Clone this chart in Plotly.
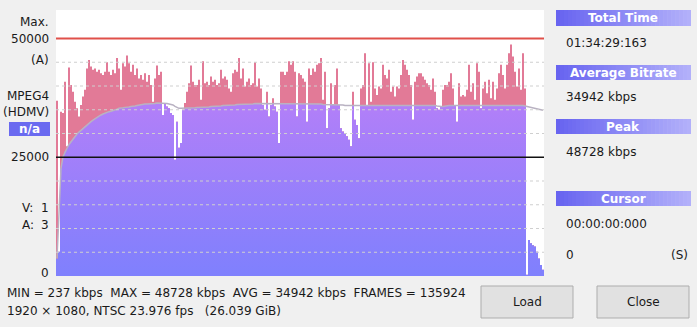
import numpy as np
import plotly.graph_objects as go

# ---------------- data ----------------
bitrate_kbps = [
    36900, 5100, 34600, 34300, 40900, 27300, 43900, 40200, 38800, 36700,
    35300, 33600, 36000, 37800, 39200, 43700, 45500, 44100, 43400, 43700,
    43000, 43400, 42700, 42300, 43000, 45000, 43000, 42300, 43400, 42700,
    45900, 43700, 39200, 44800, 44100, 46400, 44800, 43000, 44500, 42300,
    43700, 41600, 42300, 41300, 42700, 40900, 42300, 40200, 36700, 41600,
    44300, 42300, 43000, 33900, 36400, 35700, 35300, 34300, 33900, 24500,
    32500, 27000, 28000, 35000, 36400, 38800, 40600, 44300, 40900, 40200,
    40200, 41300, 37100, 45200, 40600, 40900, 40200, 42000, 40900, 41300,
    40200, 40600, 43400, 41600, 42000, 41300, 39500, 38800, 42700, 43400,
    43000, 45900, 41600, 43700, 39900, 40900, 41600, 40200, 40600, 45000,
    39900, 41600, 39500, 36000, 35000, 38800, 33600, 36000, 37400, 35700,
    34600, 28000, 43000, 43000, 42300, 43000, 45200, 44500, 45200, 43000,
    33600, 42700, 42300, 41600, 40900, 32500, 43700, 42300, 43700, 43000,
    44500, 44800, 45900, 37100, 43000, 31100, 35300, 40600, 36000, 40200,
    43700, 36000, 31100, 30400, 30000, 29400, 28700, 27300, 38800, 32900,
    31800, 29000, 39500, 40200, 46900, 36000, 44800, 36700, 45000, 39500,
    38100, 39900, 39500, 44500, 42300, 41600, 43400, 38800, 39900, 37800,
    39900, 39500, 42300, 45500, 44500, 43400, 42300, 40200, 32900, 40900,
    42000, 42700, 42700, 42000, 41300, 40600, 40200, 39200, 41600, 38800,
    35300, 35000, 35700, 39200, 40200, 40200, 40900, 42700, 39500, 36000,
    32500, 40600, 37800, 38100, 37800, 39200, 44500, 38800, 40600, 37100,
    44800, 43000, 35300, 39500, 40900, 38500, 41300, 37400, 40900, 37100,
    39500, 42700, 44500, 42300, 39500, 44500, 46900, 48728, 46200, 43000,
    39900, 43700, 39200, 46900, 39500, 237, 7600, 6900, 6500, 6200,
    5100, 3700, 2300, 1300,
]

avg_kbps = [
    3700, 15000, 22700, 25100, 26200, 26900, 27700, 28300, 28900, 29400,
    29900, 30300, 30700, 31100, 31500, 31800, 32200, 32500, 32800, 33100,
    33400, 33600, 33900, 34100, 34300, 34400, 34600, 34700, 34800, 35000,
    35100, 35300, 35300, 35400, 35500, 35500, 35600, 35700, 35700, 35800,
    35900, 36000, 36000, 36100, 36200, 36200, 36200, 36200, 36300, 36300,
    36400, 36400, 36400, 36400, 36400, 36300, 36200, 36100, 36000, 35700,
    35500, 35300, 35300, 35300, 35300, 35300, 35400, 35400, 35400, 35400,
    35500, 35500, 35500, 35600, 35600, 35600, 35600, 35700, 35700, 35700,
    35800, 35800, 35800, 35900, 35900, 35900, 36000, 36000, 36000, 36000,
    36100, 36100, 36100, 36100, 36200, 36200, 36200, 36200, 36200, 36300,
    36300, 36300, 36300, 36300, 36300, 36300, 36300, 36300, 36300, 36200,
    36200, 36200, 36200, 36200, 36200, 36300, 36300, 36300, 36300, 36300,
    36300, 36300, 36300, 36200, 36200, 36200, 36200, 36200, 36200, 36200,
    36200, 36200, 36200, 36100, 36100, 36100, 36100, 36100, 36100, 36100,
    36100, 36000, 36000, 36000, 35900, 35900, 35900, 35900, 35900, 35900,
    35900, 35900, 35900, 35900, 35900, 35900, 35900, 35900, 35900, 35900,
    35900, 36000, 36000, 36000, 36000, 36000, 36000, 36000, 36000, 36000,
    36000, 36000, 36000, 36000, 36000, 36000, 36000, 36000, 36000, 36000,
    36000, 36000, 36000, 36000, 36000, 36000, 36000, 36000, 35900, 35900,
    35800, 35700, 35700, 35700, 35800, 35800, 35900, 35900, 35900, 35900,
    35900, 35900, 35900, 35900, 35900, 35900, 35900, 35900, 35900, 35900,
    35900, 35900, 35900, 35900, 35900, 35900, 35900, 35900, 35900, 35900,
    35900, 35900, 35900, 35900, 36000, 36000, 36000, 36000, 36000, 36000,
    36000, 36000, 35900, 35900, 35800, 35700, 35600, 35500, 35400, 35300,
    35200, 35100, 35000, 34900,
]

max_line_kbps = 50000
mid_line_kbps = 25000
grid_kbps = [5000, 10000, 15000, 20000, 30000, 35000, 40000, 45000]
y_top_kbps = 56000

left_labels = ["Max.", "50000", "(A)", "MPEG4", "(HDMV)", "25000", "0"]
stats_line1 = "MIN = 237 kbps  MAX = 48728 kbps  AVG = 34942 kbps  FRAMES = 135924"
stats_line2 = "1920 × 1080, NTSC 23.976 fps   (26.039 GiB)"
panel_headers = ["Total Time", "Average Bitrate", "Peak", "Cursor"]
panel_values = ["01:34:29:163", "34942 kbps", "48728 kbps", "00:00:00:000"]

# ---------------- figure ----------------
W, H = 697, 327
PL, PR, PT, PB = 56, 544, 10, 276
FONT = "DejaVu Sans"


def fx(px):
    return (px - PL) / (PR - PL)


def fy(py):
    return (PB - py) / (PB - PT)


n = len(bitrate_kbps)
xs = list(range(n + 1))
bars = np.array(bitrate_kbps, dtype=float)
avg = np.array(avg_kbps, dtype=float)
below = np.minimum(bars, avg)

fig = go.Figure()
fig.add_trace(go.Scatter(
    x=xs, y=list(bars) + [bars[-1]], mode="lines", line=dict(shape="hv", width=0, color="#e27a97"),
    fill="tozeroy", fillcolor="#e27a97", hoverinfo="skip", showlegend=False))
fig.add_trace(go.Scatter(
    x=xs, y=list(below) + [below[-1]], mode="lines", line=dict(shape="hv", width=0, color="#9a80fa"),
    fill="tozeroy",
    fillgradient=dict(type="vertical", colorscale=[[0, "#7f80fd"], [1, "#b37ff8"]], start=0, stop=37000),
    hoverinfo="skip", showlegend=False))
fig.add_trace(go.Scatter(
    x=[i + 0.5 for i in range(n)], y=avg, mode="lines", line=dict(color="#b9b2c2", width=1.5),
    hoverinfo="skip", showlegend=False))

shapes = []
for g in grid_kbps:
    shapes.append(dict(type="line", xref="paper", yref="y", x0=0, x1=1, y0=g, y1=g,
                       line=dict(color="#cfcfcf", width=1, dash="dot"), layer="above"))
shapes.append(dict(type="line", xref="paper", yref="y", x0=0, x1=1, y0=max_line_kbps, y1=max_line_kbps,
                   line=dict(color="#e0504a", width=2), layer="above"))
shapes.append(dict(type="line", xref="paper", yref="y", x0=0, x1=1, y0=mid_line_kbps, y1=mid_line_kbps,
                   line=dict(color="#111111", width=1.5), layer="above"))


def grad_box(x0, x1, y0, y1, c0, c1, steps=34):
    for k in range(steps):
        t = k / (steps - 1)
        col = "rgb(%d,%d,%d)" % tuple(int(round(a + (b - a) * t)) for a, b in zip(c0, c1))
        a0 = x0 + (x1 - x0) * k / steps
        a1 = x0 + (x1 - x0) * (k + 1) / steps + 0.6
        shapes.append(dict(type="rect", xref="paper", yref="paper", x0=fx(a0), x1=fx(min(a1, x1)),
                           y0=fy(y1), y1=fy(y0), fillcolor=col, line=dict(width=0), layer="below"))


annotations = []


def ann(text, px, py, xanchor="left", size=12, color="#1a1a1a", bold=False):
    annotations.append(dict(x=fx(px), y=fy(py), xref="paper", yref="paper",
                            text=("<b>%s</b>" % text) if bold else text, showarrow=False,
                            xanchor=xanchor, yanchor="middle",
                            font=dict(family=FONT, size=size, color=color)))


def nb(s):
    return s.replace(" ", "\u00a0")


# left labels
left_y = [22, 39, 60, 96, 112, 157, 273]
for lab, yy in zip(left_labels, left_y):
    ann(lab, 51, yy, xanchor="right")
shapes.append(dict(type="rect", xref="paper", yref="paper", x0=fx(9), x1=fx(50), y0=fy(136), y1=fy(122),
                   fillcolor="#6a6af0", line=dict(width=0), layer="below"))
ann("n/a", 29.5, 129, xanchor="center", color="white", bold=True)
ann("V:", 20, 208)
ann("1", 51, 208, xanchor="right")
ann("A:", 20, 225)
ann("3", 51, 225, xanchor="right")

# right panel
header_y = [(10, 26), (65, 80), (119, 134), (191, 206)]
value_y = [43, 97, 152, 224]
for hdr, (y0, y1), val, vy in zip(panel_headers, header_y, panel_values, value_y):
    grad_box(556, 691, y0, y1, (104, 100, 240), (178, 176, 250))
    ann(hdr, 623, (y0 + y1) / 2, xanchor="center", color="white", bold=True)
    ann(val, 564, vy)
ann("0", 564, 255)
ann("(S)", 690, 255, xanchor="right")

# bottom stats
ann(nb(stats_line1), 5, 293)
ann(nb(stats_line2), 5, 311)

# buttons
for bx0, bx1, lab in [(481, 573, "Load"), (597, 689, "Close")]:
    shapes.append(dict(type="rect", xref="paper", yref="paper", x0=fx(bx0), x1=fx(bx1), y0=fy(318), y1=fy(286),
                       fillcolor="#e1e1e1", line=dict(color="#adadad", width=1), layer="below"))
    ann(lab, (bx0 + bx1) / 2, 302, xanchor="center")

fig.update_layout(
    width=W, height=H,
    margin=dict(l=PL, r=W - PR, t=PT, b=H - PB, pad=0),
    paper_bgcolor="#f0f0f0", plot_bgcolor="white",
    xaxis=dict(range=[0, n], visible=False, fixedrange=True),
    yaxis=dict(range=[0, y_top_kbps], visible=False, fixedrange=True),
    shapes=shapes, annotations=annotations, showlegend=False,
    font=dict(family=FONT, size=12),
)

fig.write_html("out.html", config={"displayModeBar": False})
